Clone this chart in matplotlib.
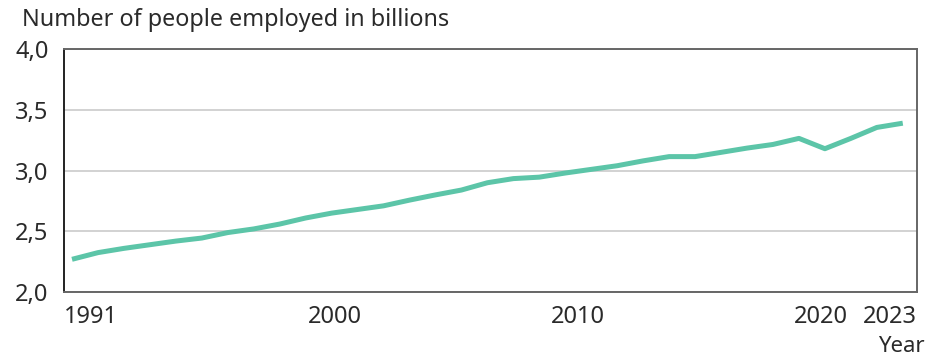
import matplotlib.pyplot as plt
import matplotlib.transforms as mtransforms
from matplotlib.ticker import FuncFormatter

plt.rcParams['font.family'] = ['Noto Sans', 'DejaVu Sans']

years = list(range(1991, 2024))
employed = [2.27, 2.325, 2.36, 2.39, 2.42, 2.445, 2.49, 2.52, 2.56, 2.61,
            2.65, 2.68, 2.71, 2.757, 2.80, 2.84, 2.90, 2.934, 2.946, 2.98,
            3.01, 3.04, 3.08, 3.115, 3.115, 3.15, 3.185, 3.215, 3.265, 3.18,
            3.265, 3.355, 3.39]

tick_years = [1991, 2000, 2010, 2020, 2023]
tick_shift_px = [19, 29, 13, -4, -13]
y_ticks = [2.0, 2.5, 3.0, 3.5, 4.0]

fig = plt.figure(figsize=(9.27, 3.58), dpi=100)
ax = fig.add_axes([0.069, 0.184, 0.92, 0.679])

ax.plot(years, employed, color='#5cc5a8', lw=3.6, solid_joinstyle='round',
        solid_capstyle='butt', zorder=3)

ax.set_xlim(1990.69, 2023.54)
ax.set_ylim(2.0, 4.0)
ax.set_yticks(y_ticks)
ax.yaxis.set_major_formatter(FuncFormatter(lambda v, p: f'{v:.1f}'.replace('.', ',')))
ax.set_xticks(tick_years)
ax.set_xticklabels([str(y) for y in tick_years])
ax.grid(axis='y', color='#d2d2d2', lw=1.4)
ax.set_axisbelow(True)

ax.tick_params(length=0, labelsize=17, colors='#2a2a2a')
ax.tick_params(axis='y', pad=11)
ax.tick_params(axis='x', pad=9)

for lbl, dx in zip(ax.get_xticklabels(), tick_shift_px):
    lbl.set_transform(lbl.get_transform() +
                      mtransforms.ScaledTranslation(dx / 100, 0, fig.dpi_scale_trans))

for side in ['top', 'right', 'bottom']:
    ax.spines[side].set_color('#666666')
    ax.spines[side].set_linewidth(1.4)
ax.spines['left'].set_color('#222222')
ax.spines['left'].set_linewidth(1.4)

fig.text(22 / 927, 1 - 20 / 358, 'Number of people employed in billions',
         fontsize=16.8, color='#2a2a2a', ha='left', va='center')
fig.text(925 / 927, 1 - 346 / 358, 'Year', fontsize=16, color='#2a2a2a',
         ha='right', va='center')

fig.savefig('out.png', dpi=100)
